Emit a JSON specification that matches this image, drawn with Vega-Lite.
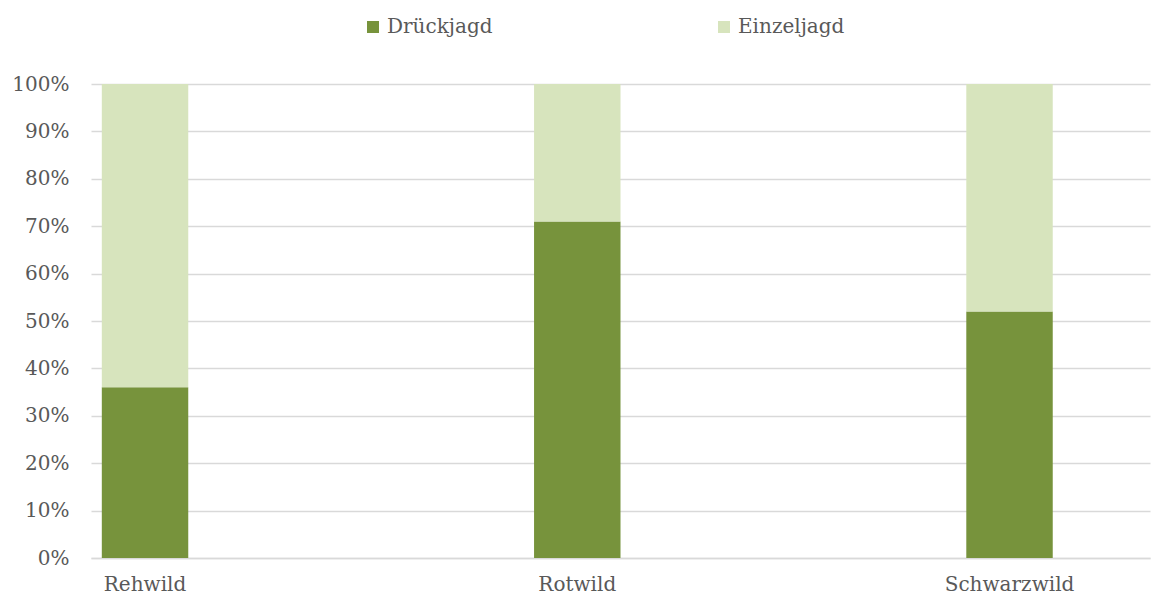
{
  "$schema": "https://vega.github.io/schema/vega-lite/v6.json",
  "width": 1059,
  "height": 474,
  "autosize": {"type": "none"},
  "padding": {"left": 91, "top": 84, "right": 13, "bottom": 40},
  "background": "white",
  "data": {
    "values": [
      {"Wildart": "Rehwild", "Jagdart": "Drückjagd", "Anteil": 0.36, "order": 1},
      {"Wildart": "Rehwild", "Jagdart": "Einzeljagd", "Anteil": 0.64, "order": 2},
      {"Wildart": "Rotwild", "Jagdart": "Drückjagd", "Anteil": 0.71, "order": 1},
      {"Wildart": "Rotwild", "Jagdart": "Einzeljagd", "Anteil": 0.29, "order": 2},
      {"Wildart": "Schwarzwild", "Jagdart": "Drückjagd", "Anteil": 0.52, "order": 1},
      {"Wildart": "Schwarzwild", "Jagdart": "Einzeljagd", "Anteil": 0.48, "order": 2}
    ]
  },
  "mark": {"type": "bar"},
  "encoding": {
    "x": {
      "field": "Wildart",
      "type": "nominal",
      "sort": ["Rehwild", "Rotwild", "Schwarzwild"],
      "scale": {"paddingInner": 0.8, "paddingOuter": 0.125, "align": 0.1},
      "axis": {
        "title": null,
        "labelAngle": 0,
        "ticks": false,
        "domain": true,
        "domainColor": "#D9D9D9",
        "domainWidth": 1.5,
        "labelPadding": 16,
        "labelFont": "DejaVu Serif",
        "labelFontSize": 20,
        "labelColor": "#595959"
      }
    },
    "y": {
      "field": "Anteil",
      "type": "quantitative",
      "stack": "zero",
      "scale": {"domain": [0, 1]},
      "axis": {
        "title": null,
        "format": ".0%",
        "values": [0, 0.1, 0.2, 0.3, 0.4, 0.5, 0.6, 0.7, 0.8, 0.9, 1],
        "ticks": false,
        "domain": false,
        "grid": true,
        "gridColor": "#D9D9D9",
        "gridWidth": 1.5,
        "labelPadding": 22,
        "labelFont": "DejaVu Serif",
        "labelFontSize": 20,
        "labelColor": "#595959"
      }
    },
    "color": {
      "field": "Jagdart",
      "type": "nominal",
      "scale": {"domain": ["Drückjagd", "Einzeljagd"], "range": ["#77933C", "#D7E4BD"]},
      "legend": {
        "title": null,
        "orient": "none",
        "direction": "horizontal",
        "legendX": 272,
        "legendY": -67,
        "symbolType": "square",
        "symbolSize": 144,
        "symbolStrokeWidth": 0,
        "labelOffset": 4,
        "columnPadding": 221,
        "labelFont": "DejaVu Serif",
        "labelFontSize": 20,
        "labelColor": "#595959",
        "padding": 0
      }
    },
    "order": {"field": "order", "type": "quantitative"}
  },
  "config": {"view": {"stroke": null}}
}
